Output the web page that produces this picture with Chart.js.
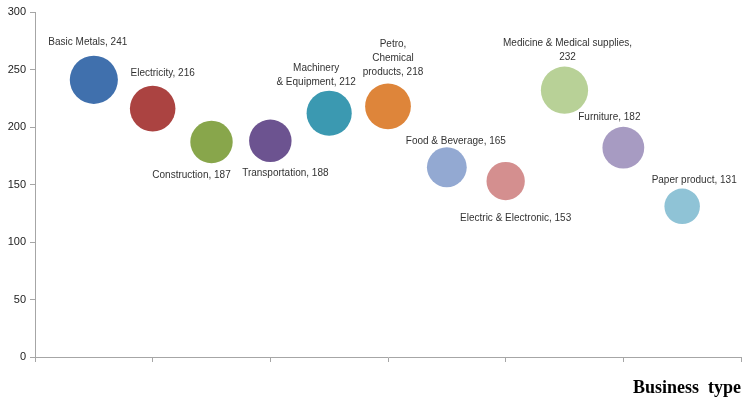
<!DOCTYPE html>
<html>
<head>
<meta charset="utf-8">
<script src="https://cdn.jsdelivr.net/npm/chart.js@4/dist/chart.umd.min.js"></script>
<style>
    html, body { margin: 0; padding: 0; background: #fff; }
    #wrap { width: 750px; height: 404px; }
</style>
</head>
<body>
<div id="wrap"><canvas id="bubbleChart" width="750" height="404"></canvas></div>
<script>
// data
const businessTypes = [
    'Basic Metals', 'Electricity', 'Construction', 'Transportation',
    'Machinery & Equipment', 'Petro, Chemical products', 'Food & Beverage',
    'Electric & Electronic', 'Medicine & Medical supplies', 'Furniture', 'Paper product'
];
const positions = [1, 2, 3, 4, 5, 6, 7, 8, 9, 10, 11];
const values = [241, 216, 187, 188, 212, 218, 165, 153, 232, 182, 131];
const labelLines = [
    ['Basic Metals, 241'],
    ['Electricity, 216'],
    ['Construction, 187'],
    ['Transportation, 188'],
    ['Machinery', '& Equipment, 212'],
    ['Petro,', 'Chemical', 'products, 218'],
    ['Food & Beverage, 165'],
    ['Electric & Electronic, 153'],
    ['Medicine & Medical supplies,', '232'],
    ['Furniture, 182'],
    ['Paper product, 131']
];
const yTicks = [0, 50, 100, 150, 200, 250, 300];
const xTicks = [0, 2, 4, 6, 8, 10, 12];

// styling
const bubbleColors = [
    '#4070ad', '#ab4341', '#88a64b', '#6c5390', '#3b99b1', '#de853a',
    '#93a9d2', '#d48f8f', '#b8d197', '#a79bc2', '#8fc3d6'
];
// where each label sits relative to its bubble (first line centre)
const labelOffsets = [
    [-6, -38], [10, -35], [-20, 33], [15, 32], [-13, -45], [5, -62],
    [9, -26], [10, 37], [3, -47], [-14, -30], [12, -26]
];
const bubbleScale = 1.55; // excel-like area scaling
const axisColor = '#a6a6a6';

const bubbleLabels = {
    id: 'bubbleLabels',
    afterDatasetsDraw(chart) {
        const ctx = chart.ctx;
        const meta = chart.getDatasetMeta(0);
        ctx.save();
        ctx.font = '10px "Liberation Sans", Arial, sans-serif';
        ctx.fillStyle = '#333';
        ctx.textAlign = 'center';
        ctx.textBaseline = 'middle';
        meta.data.forEach((pt, i) => {
            const [dx, dy] = labelOffsets[i];
            labelLines[i].forEach((line, j) => {
                ctx.fillText(line, pt.x + dx, pt.y + dy + j * 14);
            });
        });
        ctx.restore();
    }
};

new Chart(document.getElementById('bubbleChart'), {
    type: 'bubble',
    data: {
        datasets: [{
            label: 'Business type',
            data: values.map((v, i) => ({ x: positions[i], y: v, r: bubbleScale * Math.sqrt(v) })),
            backgroundColor: bubbleColors,
            borderWidth: 0,
            hoverBorderWidth: 0
        }]
    },
    options: {
        responsive: false,
        animation: false,
        layout: { autoPadding: false, padding: { top: 12, right: 9, left: 0, bottom: 0 } },
        plugins: {
            legend: { display: false },
            tooltip: { enabled: false }
        },
        scales: {
            x: {
                type: 'linear',
                min: xTicks[0],
                max: xTicks[xTicks.length - 1],
                afterBuildTicks: (axis) => { axis.ticks = xTicks.map(v => ({ value: v })); },
                ticks: { callback: () => '' },
                grid: { drawOnChartArea: false, drawTicks: true, tickLength: 5, color: axisColor },
                border: { color: axisColor },
                title: {
                    display: true,
                    text: 'Business  type',
                    align: 'end',
                    color: '#000',
                    font: { family: '"Liberation Serif", "Times New Roman", serif', size: 18, weight: 'bold' },
                    padding: { top: 0, bottom: 5 }
                },
                afterFit: (axis) => {
                    axis.height = 47;
                    axis.paddingLeft = 0;
                    axis.paddingRight = 0;
                }
            },
            y: {
                min: yTicks[0],
                max: yTicks[yTicks.length - 1],
                afterBuildTicks: (axis) => { axis.ticks = yTicks.map(v => ({ value: v })); },
                ticks: {
                    color: '#222',
                    padding: 4,
                    font: { family: '"Liberation Sans", Arial, sans-serif', size: 11 }
                },
                grid: { drawOnChartArea: false, drawTicks: true, tickLength: 5, color: axisColor },
                border: { color: axisColor },
                afterFit: (axis) => {
                    axis.width = 35;
                    axis.paddingTop = 0;
                    axis.paddingBottom = 0;
                }
            }
        }
    },
    plugins: [bubbleLabels]
});
</script>
</body>
</html>
